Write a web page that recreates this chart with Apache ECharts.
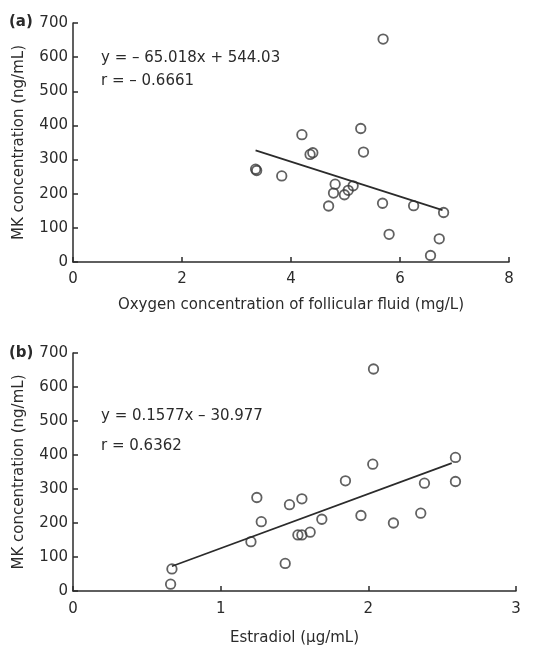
<!DOCTYPE html>
<html><head><meta charset="utf-8">
<script src="https://cdn.jsdelivr.net/npm/echarts@6/dist/echarts.min.js"></script>
<style>html,body{margin:0;padding:0;background:#fff}#c{width:542px;height:647px}</style>
</head><body><div id="c"></div>
<script>
// Panel (a): oxygen concentration (mg/L) vs MK concentration (ng/mL)
const oxygenX = [5.69, 4.20, 5.28, 4.35, 4.40, 5.33, 3.35, 3.37, 3.83, 4.81, 4.78, 4.98, 5.05, 5.14, 4.69, 5.68, 6.25, 6.80, 5.80, 6.72, 6.56];
const mkA     = [653, 373, 391, 315, 320, 322, 272, 268, 252, 228, 202, 197, 210, 223, 164, 172, 165, 145, 81, 68, 19];
const fitAX = [3.35, 6.78];
const fitAY = [327, 152];
// Panel (b): estradiol (ug/mL) vs MK concentration (ng/mL)
const estradiolX = [2.035, 2.03, 2.59, 1.845, 2.38, 2.59, 1.245, 1.466, 1.55, 1.95, 2.355, 2.17, 1.685, 1.275, 1.205, 1.523, 1.55, 1.606, 1.437, 0.67, 0.661];
const mkB        = [653, 373, 393, 324, 317, 322, 275, 254, 271, 222, 229, 200, 211, 204, 145, 165, 165, 173, 81, 65, 20];
const fitBX = [0.67, 2.565];
const fitBY = [73, 376];
const yTicks = [0, 100, 200, 300, 400, 500, 600, 700];

const pairs = (xs, ys) => xs.map((x, i) => [x, ys[i]]);
const FONT = '"DejaVu Sans", sans-serif';
const INK = '#2b2b2b';
const FS = 15;

function xAxis(idx, max, interval, name, gap, margin) {
  return {
    type: 'value', gridIndex: idx, min: 0, max: max, interval: interval,
    name: name, nameLocation: 'middle', nameGap: gap,
    nameTextStyle: { fontFamily: FONT, fontSize: FS, color: INK },
    axisLine: { lineStyle: { color: INK, width: 1.5 } },
    axisTick: { inside: true, length: 5, lineStyle: { color: INK, width: 1.5 } },
    axisLabel: { fontFamily: FONT, fontSize: FS, color: INK, margin: margin },
    splitLine: { show: false }
  };
}
function yAxis(idx) {
  return {
    type: 'value', gridIndex: idx, min: yTicks[0], max: yTicks[yTicks.length - 1], interval: 100,
    name: 'MK concentration (ng/mL)', nameLocation: 'middle', nameGap: 46,
    nameTextStyle: { fontFamily: FONT, fontSize: FS, color: INK },
    axisLine: { show: true, lineStyle: { color: INK, width: 1.5 } },
    axisTick: { show: true, inside: true, length: 5, lineStyle: { color: INK, width: 1.5 } },
    axisLabel: { fontFamily: FONT, fontSize: FS, color: INK, margin: 5 },
    splitLine: { show: false }
  };
}
const scatterStyle = { color: 'transparent', borderColor: '#3a3a3a', borderWidth: 1.8 };
const lineStyle = { color: '#2b2b2b', width: 1.7 };

const chart = echarts.init(document.getElementById('c'));
chart.setOption({
  backgroundColor: '#fff',
  animation: false,
  grid: [
    { left: 73, right: 33, top: 23, height: 239 },
    { left: 73, right: 26, top: 353, height: 239 }
  ],
  xAxis: [
    xAxis(0, 8, 2, 'Oxygen concentration of follicular fluid (mg/L)', 36, 10),
    xAxis(1, 3, 1, 'Estradiol (\u03bcg/mL)', 40, 11)
  ],
  yAxis: [yAxis(0), yAxis(1)],
  series: [
    { type: 'scatter', xAxisIndex: 0, yAxisIndex: 0, symbol: 'circle', symbolSize: 9.5, itemStyle: scatterStyle, data: pairs(oxygenX, mkA) },
    { type: 'line', xAxisIndex: 0, yAxisIndex: 0, showSymbol: false, symbol: 'none', lineStyle: lineStyle, data: pairs(fitAX, fitAY) },
    { type: 'scatter', xAxisIndex: 1, yAxisIndex: 1, symbol: 'circle', symbolSize: 9.5, itemStyle: scatterStyle, data: pairs(estradiolX, mkB) },
    { type: 'line', xAxisIndex: 1, yAxisIndex: 1, showSymbol: false, symbol: 'none', lineStyle: lineStyle, data: pairs(fitBX, fitBY) }
  ],
  graphic: [
    { type: 'text', left: 9, top: 15, style: { text: '(a)', font: 'bold 15px ' + FONT, fill: INK } },
    { type: 'text', left: 101, top: 51, style: { text: 'y = \u2013 65.018x + 544.03', font: '15px ' + FONT, fill: INK } },
    { type: 'text', left: 101, top: 74, style: { text: 'r = \u2013 0.6661', font: '15px ' + FONT, fill: INK } },
    { type: 'text', left: 9, top: 346, style: { text: '(b)', font: 'bold 15px ' + FONT, fill: INK } },
    { type: 'text', left: 101, top: 409, style: { text: 'y = 0.1577x \u2013 30.977', font: '15px ' + FONT, fill: INK } },
    { type: 'text', left: 101, top: 439, style: { text: 'r = 0.6362', font: '15px ' + FONT, fill: INK } }
  ]
});
</script></body></html>
